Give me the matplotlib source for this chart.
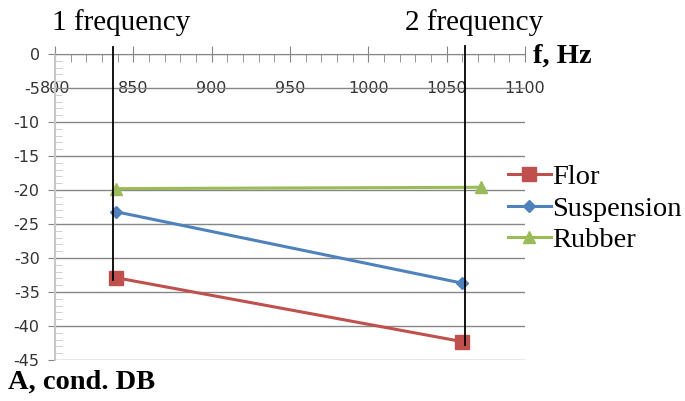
import matplotlib
matplotlib.use('Agg')
import matplotlib.pyplot as plt
from matplotlib.ticker import MultipleLocator

# --- data
freq = [839, 1060]
flor = [-32.9, -42.3]
suspension = [-23.2, -33.7]
rubber_freq = [839, 1072]
rubber = [-19.8, -19.6]

# the two marked frequencies (black vertical lines)
mark_freq = [837, 1062]
mark_top = [1.0, 1.2]
mark_bottom = [-33.2, -42.8]
mark_text = ['1 frequency', '2 frequency']

serif = 'Liberation Serif'
grey = '#868686'

fig = plt.figure(figsize=(6.85, 4.01), dpi=100)
ax = fig.add_axes([55 / 685, 41 / 401, 470 / 685, 306 / 401])

ax.plot(freq, flor, '-s', color='#C0504D', lw=2.2, ms=10, label='Flor')
ax.plot(freq, suspension, '-D', color='#4F81BD', lw=2.2, ms=6, label='Suspension')
ax.plot(rubber_freq, rubber, '-^', color='#9BBB59', lw=2.2, ms=9, label='Rubber')

for f, t, b in zip(mark_freq, mark_top, mark_bottom):
    ax.plot([f, f], [t, b], color='black', lw=1.3, clip_on=False, zorder=5)

ax.set_xlim(800, 1100)
ax.set_ylim(-45, 0)

ax.xaxis.set_major_locator(MultipleLocator(50))
ax.xaxis.set_minor_locator(MultipleLocator(10))
ax.yaxis.set_major_locator(MultipleLocator(5))
ax.yaxis.set_minor_locator(MultipleLocator(1))

ax.yaxis.grid(True, which='major', color=grey, lw=1)
ax.set_axisbelow(True)

for s in ['right', 'bottom']:
    ax.spines[s].set_visible(False)
ax.spines['top'].set_color(grey)
ax.spines['left'].set_color('#c8c8c8')
ax.spines['left'].set_linewidth(1.5)

ax.tick_params(axis='x', which='both', bottom=False, labelbottom=False,
               top=True, labeltop=True, colors=grey, labelcolor='#333333',
               labelsize=11.5)
ax.tick_params(axis='x', which='major', direction='inout', length=12, pad=-36)
ax.tick_params(axis='x', which='minor', direction='in', length=6)
ax.tick_params(axis='y', which='major', direction='out', length=5,
               colors=grey, labelcolor='#333333', labelsize=11.5, pad=6)
ax.tick_params(axis='y', which='minor', direction='in', length=5, colors='#c8c8c8')

ax.set_yticks([0, -5, -10, -15, -20, -25, -30, -35, -40, -45])
ax.set_yticklabels(['0', '-5', '-10', '-15', '-20', '-25', '-30', '-35', '-40', '-45'])

for f, txt in zip(mark_freq, mark_text):
    fig.text(ax.transData.transform((f, 0))[0] / 685 + 0.012, 0.943, txt,
             family=serif, fontsize=21, ha='center', va='center')

fig.text(533 / 685, 0.86, 'f, Hz', family=serif, fontsize=20.5,
         fontweight='bold', ha='left', va='center')
fig.text(8 / 685, 0.047, 'A, cond. DB', family=serif, fontsize=20.5,
         fontweight='bold', ha='left', va='center')

fig.legend(loc='upper left', bbox_to_anchor=(508 / 685, 1 - 164 / 401),
           frameon=False, prop={'family': serif, 'size': 20.5},
           handlelength=1.5, handletextpad=0.05, labelspacing=0.2,
           borderaxespad=0, borderpad=0)

plt.savefig('out.png', dpi=100)
plt.close()
